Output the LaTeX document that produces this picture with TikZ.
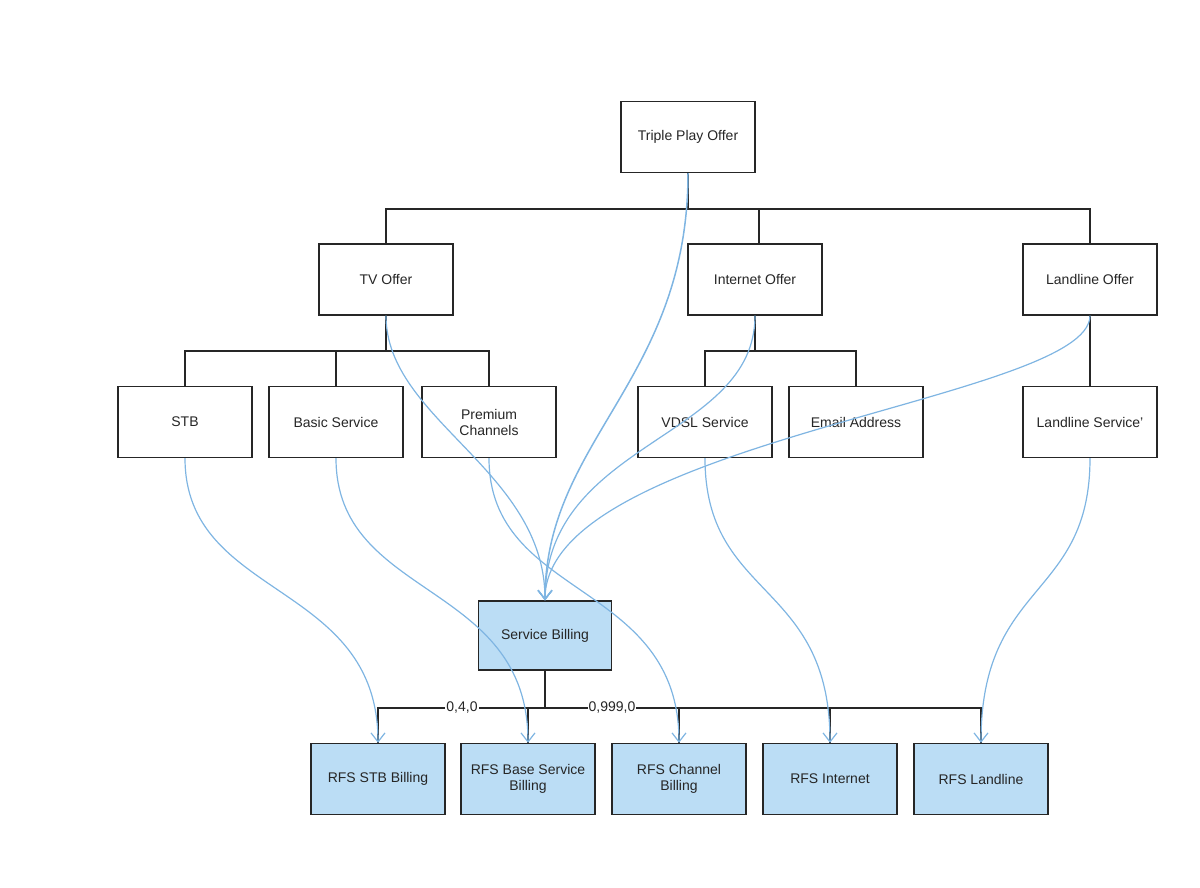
\documentclass[tikz,border=0pt]{standalone}
\usepackage{fontspec}
\setmainfont{Liberation Sans}
\usetikzlibrary{arrows.meta}
\definecolor{lb}{HTML}{BBDDF5}
\definecolor{ln}{HTML}{7FB5E2}
\begin{document}
\begin{tikzpicture}[x=1pt,y=-1pt,
  box/.style={draw=black!85,line width=1.3pt,minimum width=134pt,minimum height=71pt,align=center,font=\fontsize{14}{16}\selectfont,text=black!85,fill=white},
  bbox/.style={box,fill=lb},
  tree/.style={draw=black!85,line width=1.3pt},
  blu/.style={draw=ln,line width=1.2pt,-{Straight Barb[length=9pt,width=14pt]}},
  lab/.style={fill=white,inner sep=1pt,font=\fontsize{14}{16}\selectfont,text=black!85}]
\useasboundingbox (0,0) rectangle (1200,888);
\node[box] (tp) at (688,137) {Triple Play Offer};
\node[box] (tv) at (386,279.5) {TV Offer};
\node[box] (io) at (755,279.5) {Internet Offer};
\node[box] (lo) at (1090,279.5) {Landline Offer};
\node[box] (stb) at (185,422) {STB};
\node[box] (bs) at (336,422) {Basic Service};
\node[box] (pc) at (489,422) {Premium\\Channels};
\node[box] (vd) at (705,422) {VDSL Service};
\node[box] (em) at (856,422) {Email Address};
\node[box] (ls) at (1090,422) {Landline Service'};
\node[bbox,minimum width=133pt,minimum height=69pt] (sb) at (545,635.5) {Service Billing};
\node[bbox] (r1) at (378,779) {RFS STB Billing};
\node[bbox] (r2) at (528,779) {RFS Base Service\\Billing};
\node[bbox] (r3) at (679,779) {RFS Channel\\Billing};
\node[bbox] (r4) at (830,779) {RFS Internet};
\node[bbox] (r5) at (981,779) {RFS Landline};
% tree
\draw[tree] (tp.south) -- (688,209);
\draw[tree] (tv.north) |- (1090,209) -- (lo.north);
\draw[tree] (759,209) -- (759,244);
\draw[tree] (tv.south) -- (386,351);
\draw[tree] (stb.north) |- (489,351) -- (pc.north);
\draw[tree] (336,351) -- (bs.north);
\draw[tree] (io.south) -- (755,351);
\draw[tree] (vd.north) |- (856,351) -- (em.north);
\draw[tree] (lo.south) -- (ls.north);
\draw[tree] (sb.south) -- (545,708);
\draw[tree] (r1.north) |- (981,708) -- (r5.north);
\draw[tree] (528,708) -- (r2.north);
\draw[tree] (679,708) -- (r3.north);
\draw[tree] (830,708) -- (r4.north);
\node[lab] (l1) at (462,708) {0,4,0};
\node[lab] (l2) at (612,708) {0,999,0};
% blue
\draw[blu,line width=1.5pt] (tp.south) .. controls (688,380) and (545,440) .. (sb.north);
\draw[blu] (tv.south) .. controls (386,420) and (545,470) .. (sb.north);
\draw[blu] (io.south) .. controls (755,440) and (545,440) .. (sb.north);
\draw[blu] (lo.south) .. controls (1090,400) and (545,440) .. (sb.north);
\draw[blu] (stb.south) .. controls (185,600) and (378,580) .. (r1.north);
\draw[blu] (bs.south) .. controls (336,600) and (528,580) .. (r2.north);
\draw[blu] (pc.south) .. controls (489,600) and (679,580) .. (r3.north);
\draw[blu] (vd.south) .. controls (705,600) and (830,580) .. (r4.north);
\draw[blu] (ls.south) .. controls (1090,600) and (981,580) .. (r5.north);
\end{tikzpicture}
\end{document}
